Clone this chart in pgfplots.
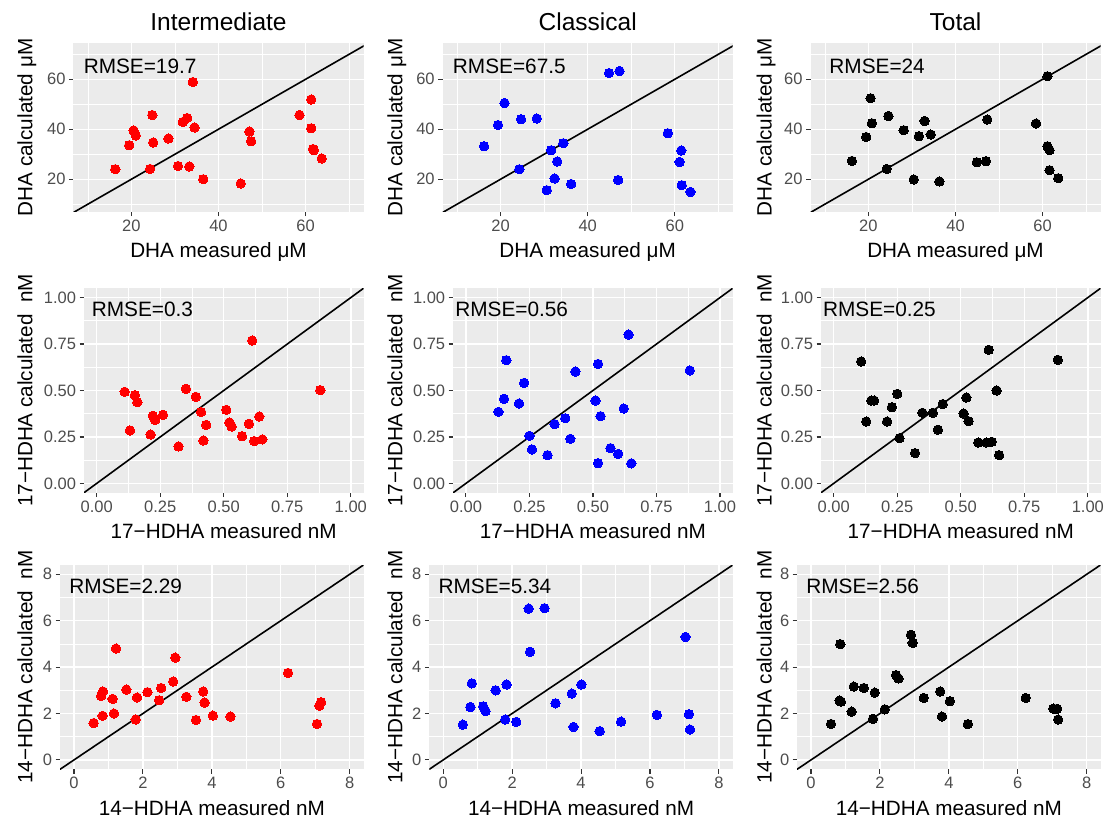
\documentclass[border=0pt]{standalone}
\usepackage{fontspec}
\setmainfont{Liberation Sans}
\usepackage{pgfplots}
\pgfplotsset{compat=1.18}
\definecolor{ggbg}{HTML}{EBEBEB}
\definecolor{gg20}{HTML}{333333}
\definecolor{gg30}{HTML}{4D4D4D}
\pgfplotsset{
  gg/.style={
    scale only axis,
    axis background/.style={fill=ggbg},
    axis line style={draw=none},
    grid=both,
    major grid style={white, line width=1.4pt},
    minor grid style={white, line width=0.7pt},
    tick align=outside,
    xtick pos=bottom, ytick pos=left,
    major tick length=4.5pt,
    minor tick length=0pt,
    major tick style={color=gg20, line width=1.1pt},
    xticklabel style={font=\fontsize{16.5}{18}\selectfont, text=gg30},
    yticklabel style={font=\fontsize{16.5}{18}\selectfont, text=gg30},
    xlabel style={font=\fontsize{20.7}{24}\selectfont, at={(axis description cs:0.5,0)}, anchor=base, yshift=-46.3pt},
    ylabel style={font=\fontsize{20.7}{24}\selectfont, anchor=base},
    title style={font=\fontsize{24.5}{28}\selectfont, at={(axis description cs:0.5,1)}, anchor=base, yshift=6.5pt},
  },
  row1/.style={gg, width=290pt, height=168.4pt, xmin=6.7, xmax=73.3, ymin=7, ymax=74.4,
    xtick={20,40,60}, ytick={20,40,60}, xticklabels={20,40,60}, yticklabels={20,40,60},
    minor xtick={10,30,50,70}, minor ytick={10,30,50,70},
    xlabel={DHA measured μM}, ylabel={DHA calculated μM}},
  row2/.style={gg, width=279.5pt, height=204.4pt, xmin=-0.05, xmax=1.05, ymin=-0.05, ymax=1.05,
    xtick={0,0.25,0.5,0.75,1}, ytick={0,0.25,0.5,0.75,1},
    xticklabels={0.00,0.25,0.50,0.75,1.00}, yticklabels={0.00,0.25,0.50,0.75,1.00},
    minor xtick={0.125,0.375,0.625,0.875}, minor ytick={0.125,0.375,0.625,0.875},
    xlabel={17−HDHA measured nM}, ylabel={17−HDHA calculated\ \ nM}},
  row3/.style={gg, width=303.3pt, height=204.2pt, xmin=-0.4, xmax=8.4, ymin=-0.4, ymax=8.4,
    xtick={0,2,4,6,8}, ytick={0,2,4,6,8}, xticklabels={0,2,4,6,8}, yticklabels={0,2,4,6,8},
    minor xtick={1,3,5,7}, minor ytick={1,3,5,7},
    xlabel={14−HDHA measured nM}, ylabel={14−HDHA calculated\ \ nM}},
  pts/.style={only marks, mark=*, mark size=4.7pt, mark options={draw=#1, fill=#1, line width=0pt}},
  idline/.style={black, line width=1.6pt},
}
\newcommand{\rmse}[3]{\node[font=\fontsize{20.8}{24}\selectfont, anchor=center] at (axis cs:#1,#2) {#3};}
\begin{document}
\begin{tikzpicture}
\useasboundingbox (0,0) rectangle (1105pt,820pt);
% ---------- Row 1: DHA ----------
\begin{axis}[row1, at={(363.5pt,608.3pt)}, anchor=south east, title={Intermediate},
  ylabel style={at={(axis description cs:-0.1421,0.5)}}]
\addplot[pts=red] coordinates {(16.3,24.0)(19.5,33.6)(20.5,39.5)(21.0,37.5)(24.8,45.7)(25.0,34.7)(24.3,24.1)(28.5,36.3)(30.7,25.3)(31.8,42.9)(32.8,44.5)(33.3,25.1)(34.1,58.9)(34.5,40.7)(36.5,20.0)(45.1,18.3)(47.1,39.1)(47.5,35.2)(58.6,45.7)(61.3,51.9)(61.3,40.4)(61.7,32.1)(61.9,31.6)(63.7,28.3)};
\addplot[idline] coordinates {(0,0)(100,100)};
\rmse{22}{65}{RMSE=19.7}
\end{axis}
\begin{axis}[row1, at={(732.7pt,608.3pt)}, anchor=south east, title={Classical},
  ylabel style={at={(axis description cs:-0.1393,0.5)}}]
\addplot[pts=blue] coordinates {(16.2,33.2)(19.4,41.7)(20.9,50.5)(24.7,44.0)(28.3,44.3)(24.3,24.0)(31.6,31.6)(34.4,34.4)(33.0,27.1)(32.4,20.3)(30.6,15.6)(36.2,18.1)(44.9,62.5)(47.3,63.3)(47.0,19.7)(58.4,38.4)(61.5,31.5)(61.1,26.9)(61.6,17.6)(63.6,14.9)};
\addplot[idline] coordinates {(0,0)(100,100)};
\rmse{22}{65}{RMSE=67.5}
\end{axis}
\begin{axis}[row1, at={(1100.5pt,608.3pt)}, anchor=south east, title={Total},
  ylabel style={at={(axis description cs:-0.1338,0.5)}}]
\addplot[pts=black] coordinates {(16.2,27.3)(19.5,36.9)(20.5,52.4)(20.8,42.4)(24.6,45.3)(24.2,24.1)(28.1,39.6)(30.4,19.9)(31.6,37.2)(32.9,43.3)(34.3,37.9)(36.3,19.1)(44.9,26.8)(47.0,27.2)(47.3,43.9)(58.5,42.3)(61.1,61.2)(61.1,33.2)(61.6,31.6)(61.6,23.6)(63.6,20.4)};
\addplot[idline] coordinates {(0,0)(100,100)};
\rmse{22}{65}{RMSE=24}
\end{axis}
% ---------- Row 2: 17-HDHA ----------
\begin{axis}[row2, at={(363.5pt,327.3pt)}, anchor=south east,
  ylabel style={at={(axis description cs:-0.1850,0.5)}}]
\addplot[pts=red] coordinates {(0.110,0.493)(0.150,0.475)(0.160,0.437)(0.131,0.285)(0.212,0.263)(0.221,0.364)(0.230,0.341)(0.261,0.369)(0.322,0.199)(0.351,0.509)(0.390,0.466)(0.411,0.384)(0.431,0.315)(0.420,0.231)(0.510,0.396)(0.522,0.328)(0.531,0.306)(0.572,0.254)(0.599,0.321)(0.612,0.769)(0.640,0.360)(0.620,0.228)(0.652,0.237)(0.880,0.502)};
\addplot[idline] coordinates {(-1,-1)(2,2)};
\rmse{0.18}{0.937}{RMSE=0.3}
\end{axis}
\begin{axis}[row2, at={(732.7pt,327.3pt)}, anchor=south east,
  ylabel style={at={(axis description cs:-0.1821,0.5)}}]
\addplot[pts=blue] coordinates {(0.128,0.385)(0.150,0.455)(0.159,0.663)(0.209,0.430)(0.229,0.541)(0.250,0.256)(0.260,0.183)(0.321,0.152)(0.349,0.319)(0.391,0.351)(0.411,0.240)(0.431,0.602)(0.510,0.446)(0.520,0.643)(0.530,0.362)(0.520,0.109)(0.569,0.190)(0.599,0.159)(0.621,0.403)(0.640,0.801)(0.651,0.108)(0.881,0.608)};
\addplot[idline] coordinates {(-1,-1)(2,2)};
\rmse{0.18}{0.937}{RMSE=0.56}
\end{axis}
\begin{axis}[row2, at={(1100.5pt,327.3pt)}, anchor=south east,
  ylabel style={at={(axis description cs:-0.1764,0.5)}}]
\addplot[pts=black] coordinates {(0.108,0.656)(0.128,0.333)(0.148,0.446)(0.159,0.446)(0.210,0.333)(0.229,0.410)(0.250,0.482)(0.259,0.244)(0.320,0.163)(0.349,0.380)(0.390,0.380)(0.410,0.289)(0.429,0.427)(0.511,0.376)(0.522,0.462)(0.531,0.335)(0.569,0.220)(0.601,0.220)(0.622,0.224)(0.610,0.719)(0.641,0.500)(0.651,0.152)(0.882,0.665)};
\addplot[idline] coordinates {(-1,-1)(2,2)};
\rmse{0.18}{0.937}{RMSE=0.25}
\end{axis}
% ---------- Row 3: 14-HDHA ----------
\begin{axis}[row3, at={(363.5pt,50.8pt)}, anchor=south east,
  ylabel style={at={(axis description cs:-0.0920,0.5)}}]
\addplot[pts=red] coordinates {(0.57,1.59)(0.79,2.76)(0.84,2.95)(0.83,1.90)(1.12,2.63)(1.16,2.00)(1.22,4.80)(1.52,3.03)(1.79,1.74)(1.83,2.69)(2.13,2.92)(2.47,2.57)(2.53,3.10)(2.88,3.38)(2.94,4.41)(3.26,2.72)(3.54,1.72)(3.75,2.95)(3.79,2.47)(4.03,1.91)(4.54,1.87)(6.21,3.75)(7.05,1.55)(7.12,2.34)(7.17,2.49)};
\addplot[idline] coordinates {(-1,-1)(10,10)};
\rmse{1.5}{7.5}{RMSE=2.29}
\end{axis}
\begin{axis}[row3, at={(732.7pt,50.8pt)}, anchor=south east,
  ylabel style={at={(axis description cs:-0.0894,0.5)}}]
\addplot[pts=blue] coordinates {(0.57,1.52)(0.83,3.30)(0.79,2.28)(1.16,2.31)(1.23,2.10)(1.52,3.00)(1.80,1.74)(1.84,3.25)(2.12,1.64)(2.48,6.52)(2.94,6.54)(2.52,4.66)(3.26,2.44)(3.73,2.86)(3.78,1.42)(4.01,3.25)(4.54,1.24)(5.16,1.65)(6.20,1.94)(7.03,5.30)(7.13,1.97)(7.16,1.31)};
\addplot[idline] coordinates {(-1,-1)(10,10)};
\rmse{1.5}{7.5}{RMSE=5.34}
\end{axis}
\begin{axis}[row3, at={(1100.5pt,50.8pt)}, anchor=south east,
  ylabel style={at={(axis description cs:-0.0841,0.5)}}]
\addplot[pts=black] coordinates {(0.58,1.55)(0.85,4.99)(0.83,2.56)(0.87,2.51)(1.18,2.08)(1.24,3.16)(1.53,3.10)(1.80,1.77)(1.85,2.90)(2.14,2.18)(2.47,3.65)(2.54,3.51)(2.90,5.39)(2.95,5.04)(3.27,2.67)(3.75,2.95)(3.80,1.87)(4.03,2.53)(4.55,1.54)(6.23,2.67)(7.03,2.21)(7.14,2.20)(7.17,1.74)};
\addplot[idline] coordinates {(-1,-1)(10,10)};
\rmse{1.5}{7.5}{RMSE=2.56}
\end{axis}
\end{tikzpicture}
\end{document}
